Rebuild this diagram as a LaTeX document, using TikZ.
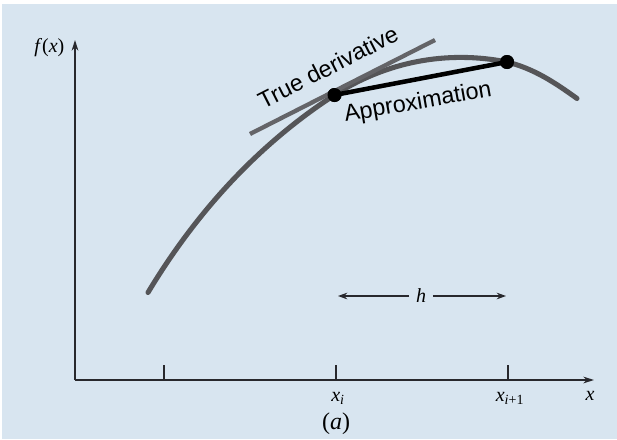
\documentclass[tikz,border=0pt]{standalone}
\usepackage{fontspec}
\newfontfamily\labelfont{Liberation Sans}
\newfontfamily\axfont{Liberation Serif}
\usetikzlibrary{arrows.meta}
\definecolor{bgblue}{RGB}{216,229,240}
\definecolor{curvegray}{RGB}{85,85,88}
\definecolor{tangray}{RGB}{100,100,104}
\definecolor{axisgray}{RGB}{40,40,45}
\newcommand{\itx}[1]{\textit{#1}}
\tikzset{
  axisline/.style={draw=axisgray, line width=1.1pt},
  tickline/.style={draw=axisgray, line width=1.0pt},
  curveline/.style={draw=curvegray, line width=3.8pt, line cap=round},
  tangentline/.style={draw=tangray, line width=3.2pt},
  secantline/.style={draw=black, line width=3.4pt},
  ptdot/.style={circle, fill=black, inner sep=0pt, minimum size=10.5pt},
  sanslabel/.style={font=\labelfont\fontsize{17.5}{20}\selectfont, inner sep=0pt},
  mathlabel/.style={font=\axfont\fontsize{15}{17}\selectfont, inner sep=1pt},
  harrow/.style={draw=axisgray, line width=0.9pt, -{Stealth[length=7pt,width=5pt]}}
}
\begin{document}
\begin{tikzpicture}[x=0.75pt,y=-0.75pt]
\useasboundingbox (0,0) rectangle (617,439);
\fill[white] (0,0) rectangle (617,439);
\fill[bgblue] (2,4) rectangle (617,439);

% axes
\coordinate (O) at (75,380);
\coordinate (ytop) at (75,40);
\coordinate (xend) at (594,380);
\draw[axisline, -{Stealth[length=8pt,width=5pt]}] (O) -- (ytop);
\draw[axisline, -{Stealth[length=8pt,width=5pt]}] (O) -- (xend);
\node[mathlabel, anchor=east] (fx) at (66,48) {\itx{f}(\itx{x})};

% ticks
\coordinate (t0) at (164,380);
\coordinate (t1) at (336,380);
\coordinate (t2) at (508,380);
\draw[tickline] (t0) -- ++(0,-15);
\draw[tickline] (t1) -- ++(0,-15);
\draw[tickline] (t2) -- ++(0,-15);
\node[mathlabel] (xi) at (338,398) {\itx{x}\textsubscript{\itx{i}}};
\node[mathlabel] (xip) at (510,398) {\itx{x}\textsubscript{\itx{i}+1}};
\node[mathlabel] (xl) at (590,396) {\itx{x}};
\node[mathlabel, font=\axfont\fontsize{18}{20}\selectfont] (cap) at (336,424) {(\itx{a})};

% curve
\coordinate (c0) at (148,292.5);
\node[ptdot] (p1) at (334.5,95) {};
\node[ptdot] (p2) at (507,62) {};
\coordinate (c3) at (577,98.5);
\draw[curveline] (c0) .. controls (197,211) and (259,144) .. (p1.center)
  .. controls (386.5,61.5) and (447.1,50.1) .. (p2.center)
  .. controls (534.1,68.6) and (555.3,82.9) .. (c3);

% tangent
\coordinate (ta) at (250,134);
\coordinate (tb) at (435,40);
\draw[tangentline] (ta) -- (tb);

% secant
\draw[secantline] (p1.center) -- (p2.center);
\node[ptdot] at (p1) {};
\node[ptdot] at (p2) {};

% labels
\node[sanslabel, rotate=27] (truelab) at (328,67) {True derivative};
\node[sanslabel, rotate=10] (applab) at (418,103) {Approximation};

% h arrow
\node[mathlabel] (h) at (421,296) {\itx{h}};
\coordinate (hl) at (338,296);
\coordinate (hr) at (506,296);
\draw[harrow] ([xshift=-4pt]h.west) -- (hl);
\draw[harrow] ([xshift=4pt]h.east) -- (hr);
\end{tikzpicture}
\end{document}
